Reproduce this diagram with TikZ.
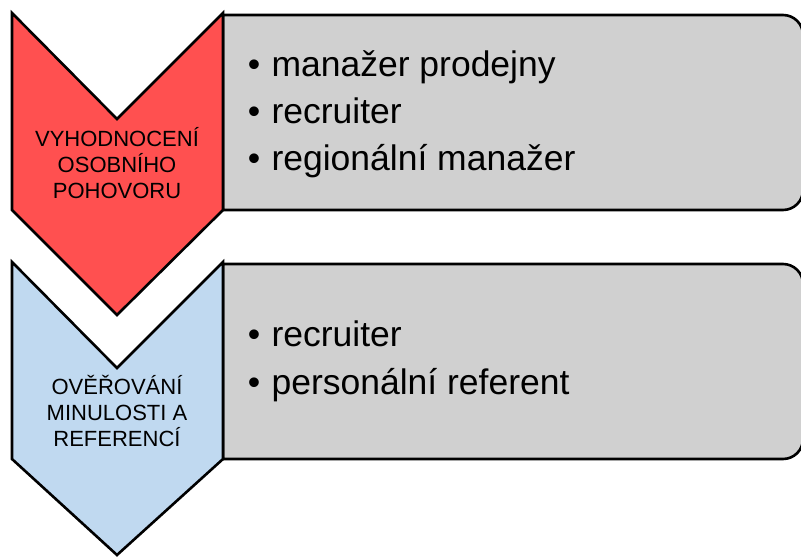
\documentclass[tikz,border=0pt]{standalone}
\usepackage{fontspec}
\setmainfont{Liberation Sans}
\begin{document}
\begin{tikzpicture}[x=1pt,y=-1pt,
  outline/.style={draw=black,line width=2.6pt,line join=miter},
  chevtext/.style={font=\fontsize{22}{26}\selectfont,align=center,anchor=base},
  itemtext/.style={font=\fontsize{35.5}{42}\selectfont,anchor=base west},
  bullet/.style={font=\fontsize{35.5}{42}\selectfont,anchor=base}]
\definecolor{stepred}{RGB}{255,80,80}
\definecolor{stepblue}{RGB}{192,217,240}
\definecolor{panelgray}{RGB}{208,208,208}
\useasboundingbox (0,0) rectangle (801,557);
\clip (0,0) rectangle (801,557);

% content panels, rounded on the right side only (right edge runs past the page)
\filldraw[outline,fill=panelgray] (223,15) -- (783,15) arc[start angle=-90,end angle=0,radius=20]
  -- (803,190) arc[start angle=0,end angle=90,radius=20] -- (223,210) -- cycle;
\filldraw[outline,fill=panelgray] (223,264) -- (783,264) arc[start angle=-90,end angle=0,radius=20]
  -- (803,439) arc[start angle=0,end angle=90,radius=20] -- (223,459) -- cycle;

% step chevrons
\filldraw[outline,fill=stepred] (12,13) -- (117,119) -- (223,13) -- (223,210) -- (117,315) -- (12,210) -- cycle;
\filldraw[outline,fill=stepblue] (12,262) -- (117,368) -- (223,262) -- (223,459) -- (117,555) -- (12,459) -- cycle;

% chevron labels
\node[chevtext] (l1a) at (117,146) {VYHODNOCENÍ};
\node[chevtext] (l1b) at (117,172) {OSOBNÍHO};
\node[chevtext] (l1c) at (117,198) {POHOVORU};
\node[chevtext] (l2a) at (117,394) {OVĚŘOVÁNÍ};
\node[chevtext] (l2b) at (117,420) {MINULOSTI A};
\node[chevtext] (l2c) at (117,446) {REFERENCÍ};

% items of the first panel
\node[bullet] (b1) at (254,76) {•};
\node[itemtext] (t1) at (268,76) {manažer prodejny};
\node[bullet] (b2) at (254,123) {•};
\node[itemtext] (t2) at (268,123) {recruiter};
\node[bullet] (b3) at (254,170) {•};
\node[itemtext] (t3) at (268,170) {regionální manažer};

% items of the second panel
\node[bullet] (b4) at (254,346) {•};
\node[itemtext] (t4) at (268,346) {recruiter};
\node[bullet] (b5) at (254,394) {•};
\node[itemtext] (t5) at (268,394) {personální referent};
\end{tikzpicture}
\end{document}
